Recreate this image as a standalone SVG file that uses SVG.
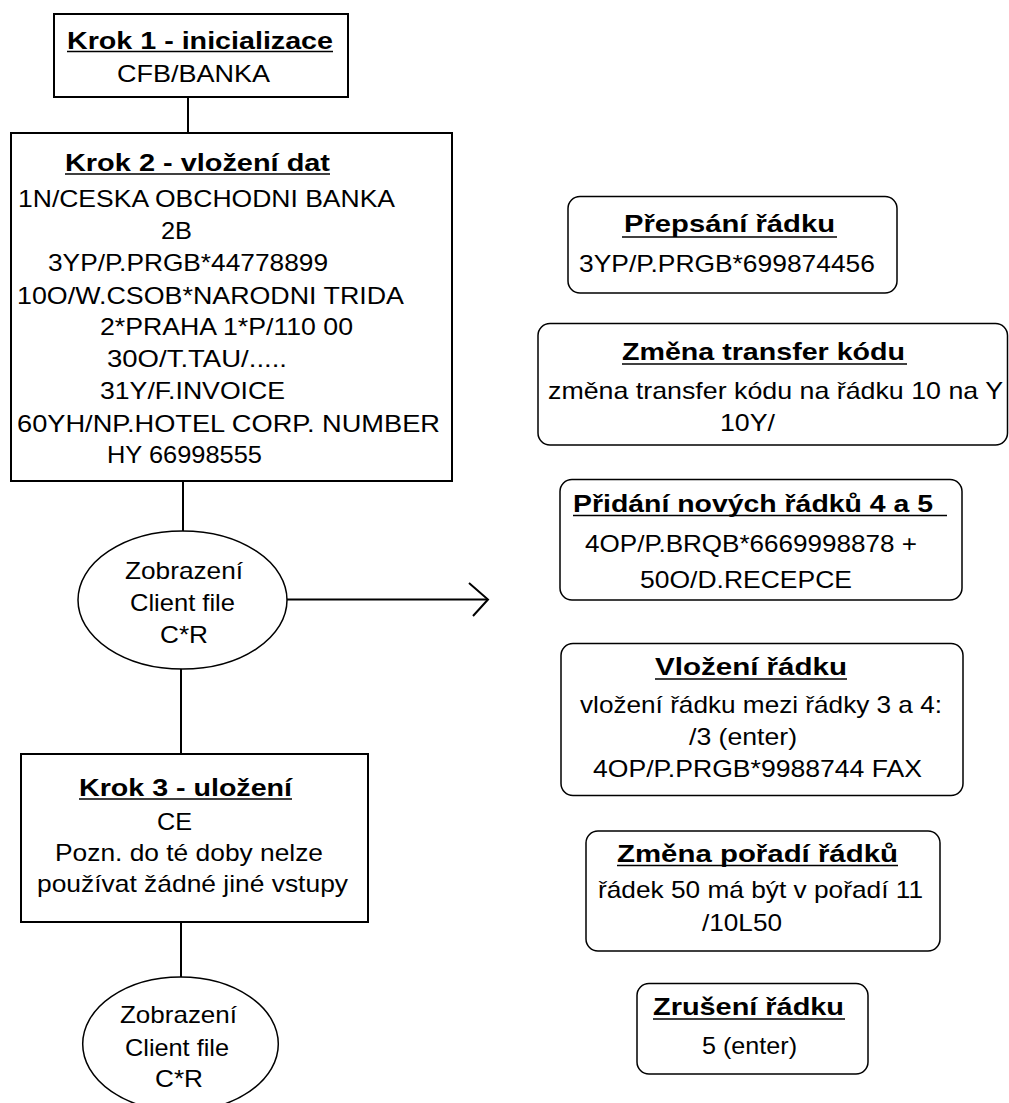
<svg xmlns="http://www.w3.org/2000/svg" width="1009" height="1103" viewBox="0 0 1009 1103">
<style>
.box{fill:#fff;stroke:#000;stroke-width:2}
.rbox{fill:#fff;stroke:#000;stroke-width:1.5}
.ell{fill:#fff;stroke:#000;stroke-width:1.5}
.con{fill:none;stroke:#000;stroke-width:2}
.ul{stroke:#000;stroke-width:1.6}
text{font-family:"Liberation Sans",Arial,sans-serif;font-size:24px;fill:#000}
.t{font-weight:bold}
</style>
<rect width="1009" height="1103" fill="#fff"/>
<g id="connectors">
<line class="con" x1="188" y1="97" x2="188" y2="133"/>
<line class="con" x1="183" y1="481" x2="183" y2="531"/>
<line class="con" x1="181" y1="669" x2="181" y2="754"/>
<line class="con" x1="181" y1="922" x2="181" y2="977"/>
<line class="con" x1="287" y1="599.5" x2="488" y2="599.5"/>
<polyline class="con" points="469,583 488,599.5 473,616"/>
</g>
<g id="krok1">
<rect class="box" x="54" y="14" width="294" height="83"/>
<text class="t" x="67" y="49" textLength="266" lengthAdjust="spacingAndGlyphs">Krok 1 - inicializace</text>
<line class="ul" x1="67" y1="51.5" x2="333" y2="51.5"/>
<text x="117" y="82" textLength="153" lengthAdjust="spacingAndGlyphs">CFB/BANKA</text>
</g>
<g id="krok2">
<rect class="box" x="11" y="133" width="441" height="348"/>
<text class="t" x="65" y="171" textLength="265" lengthAdjust="spacingAndGlyphs">Krok 2 - vložení dat</text>
<line class="ul" x1="65" y1="174" x2="330" y2="174"/>
<text x="18" y="207" textLength="377" lengthAdjust="spacingAndGlyphs">1N/CESKA OBCHODNI BANKA</text>
<text x="161" y="239" textLength="31" lengthAdjust="spacingAndGlyphs">2B</text>
<text x="48" y="271" textLength="280" lengthAdjust="spacingAndGlyphs">3YP/P.PRGB*44778899</text>
<text x="17" y="304" textLength="387" lengthAdjust="spacingAndGlyphs">10O/W.CSOB*NARODNI TRIDA</text>
<text x="100" y="335" textLength="253" lengthAdjust="spacingAndGlyphs">2*PRAHA 1*P/110 00</text>
<text x="107" y="367" textLength="180" lengthAdjust="spacingAndGlyphs">30O/T.TAU/.....</text>
<text x="100" y="399" textLength="185" lengthAdjust="spacingAndGlyphs">31Y/F.INVOICE</text>
<text x="17" y="432" textLength="423" lengthAdjust="spacingAndGlyphs">60YH/NP.HOTEL CORP. NUMBER</text>
<text x="107" y="463" textLength="155" lengthAdjust="spacingAndGlyphs">HY 66998555</text>
</g>
<g id="zobrazeni1">
<ellipse class="ell" cx="182.5" cy="600" rx="104.5" ry="69"/>
<text x="125" y="579" textLength="118" lengthAdjust="spacingAndGlyphs">Zobrazení</text>
<text x="130" y="611" textLength="105" lengthAdjust="spacingAndGlyphs">Client file</text>
<text x="160" y="643" textLength="48" lengthAdjust="spacingAndGlyphs">C*R</text>
</g>
<g id="krok3">
<rect class="box" x="21" y="754" width="347" height="168"/>
<text class="t" x="79" y="796" textLength="213" lengthAdjust="spacingAndGlyphs">Krok 3 - uložení</text>
<line class="ul" x1="79" y1="799" x2="292" y2="799"/>
<text x="157" y="830" textLength="35" lengthAdjust="spacingAndGlyphs">CE</text>
<text x="55" y="861" textLength="268" lengthAdjust="spacingAndGlyphs">Pozn. do té doby nelze</text>
<text x="37" y="892" textLength="311" lengthAdjust="spacingAndGlyphs">používat žádné jiné vstupy</text>
</g>
<g id="zobrazeni2">
<ellipse class="ell" cx="180.5" cy="1044" rx="97.8" ry="67"/>
<text x="120" y="1023" textLength="117" lengthAdjust="spacingAndGlyphs">Zobrazení</text>
<text x="125" y="1056" textLength="104" lengthAdjust="spacingAndGlyphs">Client file</text>
<text x="155" y="1087" textLength="48" lengthAdjust="spacingAndGlyphs">C*R</text>
</g>
<g id="prepsani">
<rect class="rbox" x="568" y="196.5" width="329" height="96.5" rx="12"/>
<text class="t" x="624" y="232" textLength="211" lengthAdjust="spacingAndGlyphs">Přepsání řádku</text>
<line class="ul" x1="622" y1="237" x2="837" y2="237"/>
<text x="579" y="272" textLength="296" lengthAdjust="spacingAndGlyphs">3YP/P.PRGB*699874456</text>
</g>
<g id="zmena-transfer">
<rect class="rbox" x="538" y="323.5" width="469.5" height="121.5" rx="12"/>
<text class="t" x="622" y="360" textLength="283" lengthAdjust="spacingAndGlyphs">Změna transfer kódu</text>
<line class="ul" x1="622" y1="364" x2="907" y2="364"/>
<text x="548" y="399" textLength="455" lengthAdjust="spacingAndGlyphs">změna transfer kódu na řádku 10 na Y</text>
<text x="720" y="431" textLength="55" lengthAdjust="spacingAndGlyphs">10Y/</text>
</g>
<g id="pridani">
<rect class="rbox" x="560" y="479.5" width="402" height="120.5" rx="12"/>
<text class="t" x="573" y="512" textLength="360" lengthAdjust="spacingAndGlyphs">Přidání nových řádků 4 a 5</text>
<line class="ul" x1="573" y1="515.5" x2="947" y2="515.5"/>
<text x="585" y="552" textLength="332" lengthAdjust="spacingAndGlyphs">4OP/P.BRQB*6669998878 +</text>
<text x="640" y="588" textLength="212" lengthAdjust="spacingAndGlyphs">50O/D.RECEPCE</text>
</g>
<g id="vlozeni">
<rect class="rbox" x="561" y="643.5" width="402" height="152" rx="12"/>
<text class="t" x="655" y="675" textLength="192" lengthAdjust="spacingAndGlyphs">Vložení řádku</text>
<line class="ul" x1="655" y1="679" x2="847" y2="679"/>
<text x="580" y="713" textLength="362" lengthAdjust="spacingAndGlyphs">vložení řádku mezi řádky 3 a 4:</text>
<text x="689" y="745" textLength="108" lengthAdjust="spacingAndGlyphs">/3 (enter)</text>
<text x="593" y="777" textLength="329" lengthAdjust="spacingAndGlyphs">4OP/P.PRGB*9988744 FAX</text>
</g>
<g id="zmena-poradi">
<rect class="rbox" x="586" y="831" width="354" height="120" rx="12"/>
<text class="t" x="617" y="862" textLength="281" lengthAdjust="spacingAndGlyphs">Změna pořadí řádků</text>
<line class="ul" x1="617" y1="865.5" x2="898" y2="865.5"/>
<text x="598" y="898" textLength="325" lengthAdjust="spacingAndGlyphs">řádek 50 má být v pořadí 11</text>
<text x="702" y="931" textLength="80" lengthAdjust="spacingAndGlyphs">/10L50</text>
</g>
<g id="zruseni">
<rect class="rbox" x="637" y="983.5" width="231" height="90.5" rx="12"/>
<text class="t" x="653" y="1015" textLength="191" lengthAdjust="spacingAndGlyphs">Zrušení řádku</text>
<line class="ul" x1="653" y1="1019" x2="845" y2="1019"/>
<text x="702" y="1054" textLength="95" lengthAdjust="spacingAndGlyphs">5 (enter)</text>
</g>
</svg>
